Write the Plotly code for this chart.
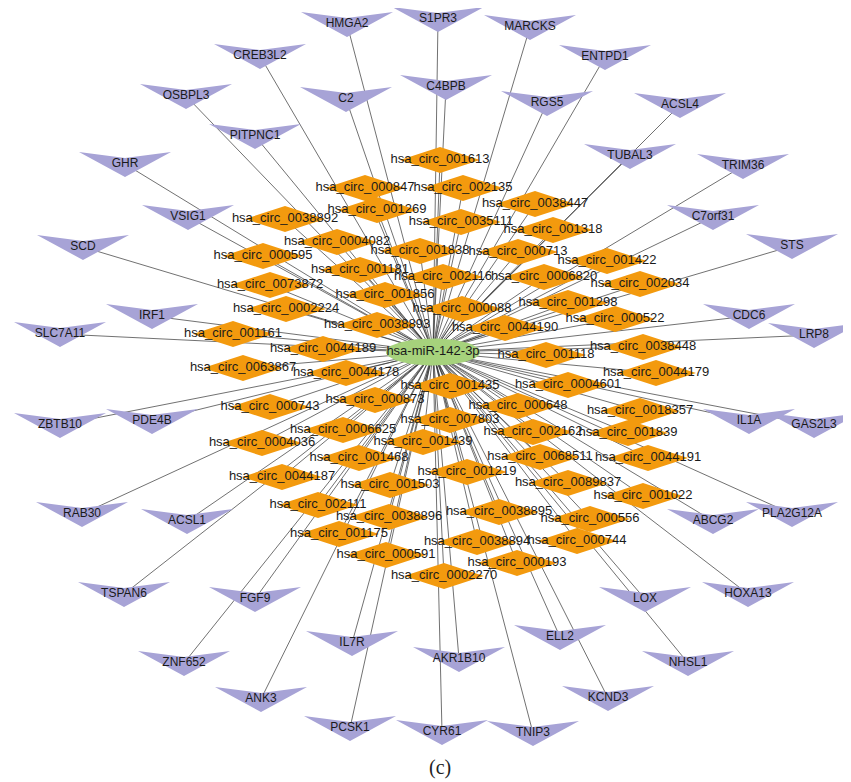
import plotly.graph_objects as go
import math

# ---- data: node names and layout positions (pixel layout of the network) ----
mirna_name = "hsa-miR-142-3p"
mirna_x = 433
mirna_y = 352

circ_names = [
    "hsa_circ_001613", "hsa_circ_000847", "hsa_circ_002135", "hsa_circ_0038447",
    "hsa_circ_001269", "hsa_circ_0035111", "hsa_circ_0038892", "hsa_circ_001318",
    "hsa_circ_0004082", "hsa_circ_001838", "hsa_circ_000713", "hsa_circ_000595",
    "hsa_circ_001422", "hsa_circ_001181", "hsa_circ_002116", "hsa_circ_0006820",
    "hsa_circ_0073872", "hsa_circ_002034", "hsa_circ_001856", "hsa_circ_000088",
    "hsa_circ_001298", "hsa_circ_0002224", "hsa_circ_000522", "hsa_circ_0038893",
    "hsa_circ_0044190", "hsa_circ_001161", "hsa_circ_0044189", "hsa_circ_001118",
    "hsa_circ_0038448", "hsa_circ_0063867", "hsa_circ_0044178", "hsa_circ_0044179",
    "hsa_circ_001435", "hsa_circ_0004601", "hsa_circ_000743", "hsa_circ_000873",
    "hsa_circ_000648", "hsa_circ_0018357", "hsa_circ_007803", "hsa_circ_0006625",
    "hsa_circ_002162", "hsa_circ_001839", "hsa_circ_0004036", "hsa_circ_001439",
    "hsa_circ_001468", "hsa_circ_0068511", "hsa_circ_0044191", "hsa_circ_0044187",
    "hsa_circ_001219", "hsa_circ_001503", "hsa_circ_0089837", "hsa_circ_001022",
    "hsa_circ_002111", "hsa_circ_0038895", "hsa_circ_0038896", "hsa_circ_000556",
    "hsa_circ_001175", "hsa_circ_0038894", "hsa_circ_000744", "hsa_circ_000591",
    "hsa_circ_000193", "hsa_circ_0002270",
]
circ_x = [
    440, 365, 463, 535,
    377, 461, 285, 553,
    337, 420, 518, 263,
    607, 360, 443, 544,
    270, 640, 385, 462,
    568, 286, 615, 377,
    505, 233, 323, 546,
    643, 243, 346, 656,
    450, 568, 270, 375,
    518, 640, 450, 343,
    533, 628, 262, 423,
    359, 540, 648, 282,
    467, 390, 568, 643,
    318, 499, 389, 590,
    339, 477, 577, 386,
    517, 444,
]
circ_y = [
    160, 188, 188, 204,
    210, 222, 219, 230,
    242, 251, 252, 256,
    261, 270, 277, 277,
    285, 284, 295, 309,
    303, 309, 319, 325,
    328, 334, 349, 355,
    347, 368, 373, 373,
    386, 385, 407, 400,
    406, 411, 420, 430,
    432, 433, 443, 442,
    458, 457, 458, 477,
    472, 485, 483, 496,
    505, 512, 517, 519,
    534, 542, 541, 555,
    563, 576,
]

mrna_names = [
    "HMGA2", "S1PR3", "MARCKS", "CREB3L2", "ENTPD1", "OSBPL3", "C2", "C4BPB",
    "RGS5", "ACSL4", "PITPNC1", "GHR", "TUBAL3", "TRIM36", "VSIG1", "C7orf31",
    "SCD", "STS", "IRF1", "SLC7A11", "CDC6", "LRP8", "ZBTB10", "PDE4B",
    "IL1A", "GAS2L3", "RAB30", "ACSL1", "ABCG2", "PLA2G12A", "TSPAN6", "FGF9",
    "LOX", "HOXA13", "IL7R", "AKR1B10", "ELL2", "NHSL1", "ZNF652", "KCND3",
    "ANK3", "PCSK1", "CYR61", "TNIP3",
]
mrna_x = [
    347, 438, 530, 260, 605, 186, 346, 446,
    547, 680, 255, 125, 630, 743, 188, 713,
    83, 792, 152, 60, 749, 814, 60, 152,
    749, 814, 82, 187, 713, 792, 124, 255,
    645, 748, 352, 459, 560, 688, 184, 608,
    261, 350, 442, 533,
]
mrna_y = [
    24, 19, 27, 56, 57, 96, 99, 87,
    103, 105, 136, 164, 156, 166, 217, 217,
    247, 246, 316, 334, 316, 335, 425, 421,
    421, 425, 514, 521, 521, 514, 594, 599,
    599, 594, 643, 659, 637, 663, 663, 698,
    699, 728, 732, 733,
]

caption = "(c)"

# ---- styles ----
W, H = 851, 782
PAGE_OFFSET = 8  # default page margin around the plot div
EDGE_COLOR = "#333333"
PURPLE = "#A7A3D6"
ORANGE = "#F39A0E"
GREEN = "#A6D27C"
TEXT_COLOR = "#1a1a1a"
FONT = "Liberation Sans, Arial, sans-serif"

fig = go.Figure()

# edges: miRNA to every circRNA and mRNA
ex, ey = [], []
for x, y in list(zip(circ_x, circ_y)) + list(zip(mrna_x, mrna_y)):
    ex += [mirna_x, x, None]
    ey += [mirna_y, y, None]
fig.add_trace(go.Scatter(x=ex, y=ey, mode="lines",
                         line=dict(color=EDGE_COLOR, width=0.7),
                         hoverinfo="skip", showlegend=False))

# mRNA chevrons (downward arrow heads)
px, py = [], []
for x, y in zip(mrna_x, mrna_y):
    px += [x - 46, x, x + 46, x, x - 46, None]
    py += [y - 12, y - 6, y - 12, y + 13, y - 12, None]
fig.add_trace(go.Scatter(x=px, y=py, mode="lines", fill="toself",
                         fillcolor=PURPLE, line=dict(width=0, color=PURPLE),
                         hoverinfo="skip", showlegend=False))

# circRNA diamonds
dx, dy = [], []
for x, y in zip(circ_x, circ_y):
    dx += [x - 40, x, x + 40, x, x - 40, None]
    dy += [y, y - 13, y, y + 13, y, None]
fig.add_trace(go.Scatter(x=dx, y=dy, mode="lines", fill="toself",
                         fillcolor=ORANGE, line=dict(width=0, color=ORANGE),
                         hoverinfo="skip", showlegend=False))

# miRNA ellipse
ell_x = [mirna_x + 47 * math.cos(2 * math.pi * k / 72) for k in range(73)]
ell_y = [mirna_y + 13.5 * math.sin(2 * math.pi * k / 72) for k in range(73)]
fig.add_trace(go.Scatter(x=ell_x, y=ell_y, mode="lines", fill="toself",
                         fillcolor=GREEN, line=dict(width=0, color=GREEN),
                         hoverinfo="skip", showlegend=False))

# labels
fig.add_trace(go.Scatter(x=mrna_x, y=mrna_y, mode="text", text=mrna_names,
                         textposition="middle center",
                         textfont=dict(family=FONT, size=12, color=TEXT_COLOR),
                         hoverinfo="skip", showlegend=False))
fig.add_trace(go.Scatter(x=circ_x, y=circ_y, mode="text", text=circ_names,
                         textposition="middle center",
                         textfont=dict(family=FONT, size=13, color=TEXT_COLOR),
                         hoverinfo="skip", showlegend=False))
fig.add_trace(go.Scatter(x=[mirna_x], y=[mirna_y], mode="text", text=[mirna_name],
                         textposition="middle center",
                         textfont=dict(family=FONT, size=13, color=TEXT_COLOR),
                         hoverinfo="skip", showlegend=False))

fig.add_annotation(x=440, y=767, xref="x", yref="y", yanchor="middle",
                   text=caption, showarrow=False,
                   font=dict(family="Liberation Serif, Times New Roman, serif",
                             size=20, color="#222222"))

fig.update_layout(
    width=W - PAGE_OFFSET, height=H - PAGE_OFFSET,
    margin=dict(l=0, r=0, t=0, b=0),
    paper_bgcolor="white", plot_bgcolor="white",
    xaxis=dict(range=[PAGE_OFFSET, W], visible=False, fixedrange=True),
    yaxis=dict(range=[H, PAGE_OFFSET], visible=False, fixedrange=True),
    showlegend=False,
)

fig.write_html("out.html")
